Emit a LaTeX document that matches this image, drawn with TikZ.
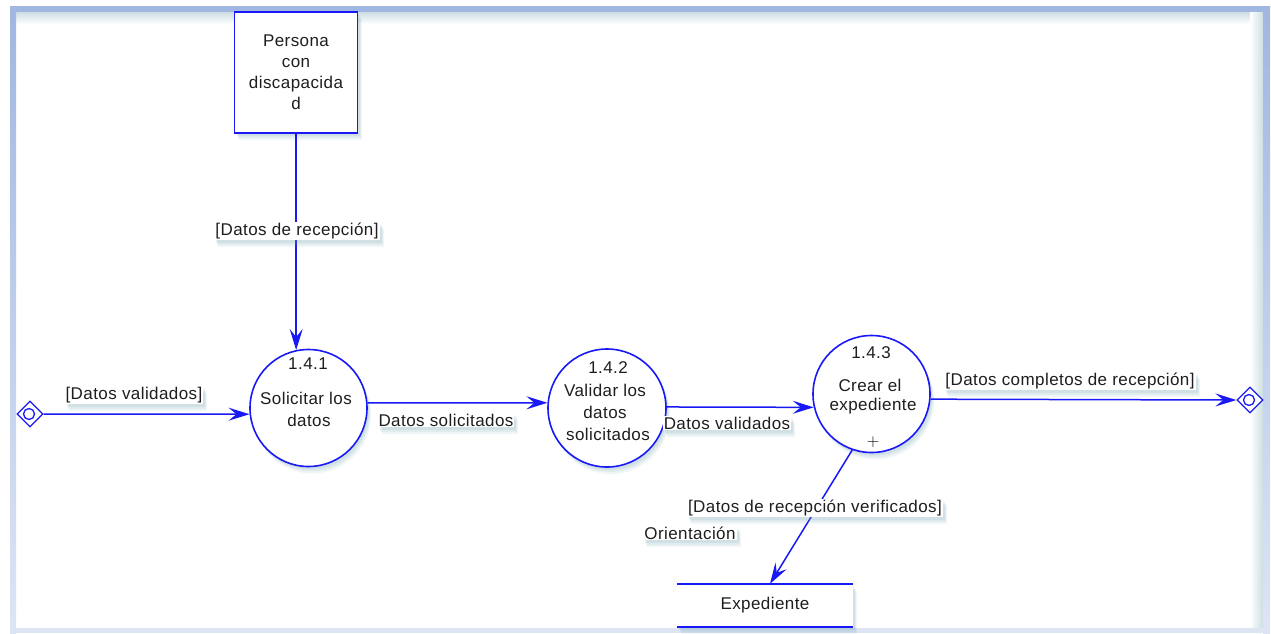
\documentclass[tikz,border=0pt]{standalone}
\usepackage{fontspec}
\setmainfont[LetterSpace=2.5]{Liberation Sans}
\usetikzlibrary{arrows.meta,shapes.geometric,shadows,calc}

\definecolor{flow}{RGB}{25,25,245}
\definecolor{frameblue}{RGB}{160,183,226}
\definecolor{framelight}{RGB}{221,229,245}
\definecolor{haze}{RGB}{110,160,175}
\definecolor{ink}{RGB}{30,30,30}

\tikzset{
  txt/.style={font=\fontsize{17}{21}\selectfont, text=ink, inner sep=1pt, align=center},
  % layered translucent copies give a soft drop shadow below each shape
  soft/.style={
    drop shadow={shadow xshift=4pt, shadow yshift=-7pt, fill=haze, opacity=0.10},
    drop shadow={shadow xshift=3pt, shadow yshift=-5pt, fill=haze, opacity=0.12},
    drop shadow={shadow xshift=2pt, shadow yshift=-3pt, fill=haze, opacity=0.14}},
  flowlabel/.style={txt, fill=white, soft},
  process/.style={circle, draw=flow, line width=1.6pt, fill=white, soft},
  entity/.style={rectangle, draw=flow, line width=1.6pt, fill=white, soft,
      minimum width=123pt, minimum height=121pt, txt},
  endpoint/.style={diamond, draw=flow, line width=1.3pt, fill=white,
      minimum width=26pt, minimum height=26pt, inner sep=0pt},
  flowline/.style={draw=flow, line width=1.5pt,
      -{Stealth[length=21pt, width=13pt, inset=8pt]}},
}

\begin{document}
\begin{tikzpicture}[x=1pt, y=-1pt]
  \useasboundingbox (0,0) rectangle (1271,633);

  % page frame with its soft inner edge
  \shade[top color=haze!35, bottom color=white] (16,12) rectangle (1263,24);
  \shade[left color=white, right color=haze!35] (1250,12) rectangle (1263,628);
  \fill[frameblue] (10,6) rectangle (1270,12);
  \shade[top color=frameblue, bottom color=framelight] (10,6) rectangle (16,633);
  \shade[top color=frameblue, bottom color=framelight] (1263,6) rectangle (1270,633);
  \fill[framelight] (10,628) rectangle (1270,633);

  % external entity
  \node[entity] (ext) at (296,72.5) {Persona\\con\\discapacida\\d};

  % processes
  \node[process, minimum size=117pt] (p1) at (308.5,408) {};
  \node[process, minimum size=118pt] (p2) at (607,408) {};
  \node[process, minimum size=117pt] (p3) at (871.5,394) {};

  \node[txt] (p1n) at (308,364) {1.4.1};
  \node[txt] (p1a) at (306,398) {Solicitar los};
  \node[txt] (p1b) at (309,420) {datos};

  \node[txt] (p2n) at (608,368) {1.4.2};
  \node[txt] (p2a) at (605,390) {Validar los};
  \node[txt] (p2b) at (605,412) {datos};
  \node[txt] (p2c) at (608,434) {solicitados};

  \node[txt] (p3n) at (871,353) {1.4.3};
  \node[txt] (p3a) at (870,385) {Crear el};
  \node[txt] (p3b) at (873,406) {expediente};
  \node[font=\fontsize{18}{20}\selectfont, inner sep=0pt] (p3plus) at (873,442) {$+$};

  % source and sink connectors
  \node[endpoint] (src) at (30,414) {};
  \node[draw=flow, line width=1.3pt, circle, minimum size=11pt, inner sep=0pt] (srcdot) at (29,414) {};
  \node[endpoint] (snk) at (1250,400) {};
  \node[draw=flow, line width=1.3pt, circle, minimum size=11pt, inner sep=0pt] (snkdot) at (1249,400) {};

  % data store
  \node[minimum width=176pt, minimum height=43pt, fill=white, soft, txt] (store) at (765,605.5) {Expediente};
  \draw[flow, line width=1.6pt] (store.north west) -- (store.north east);
  \draw[flow, line width=1.6pt] (store.south west) -- (store.south east);

  % flows
  \draw[flowline] (p1.102 |- ext.south) -- (p1.102);
  \draw[flowline] (src.east) -- (p1.186);
  \draw[flowline] (p1.5) -- (p2.175);
  \draw[flowline] (p2.1) -- (p3.193);
  \draw[flowline] (p3.355) -- (snk.west);
  \draw[flowline] (p3.251) -- ([xshift=5pt]store.north);

  % flow labels
  \node[flowlabel] (l1) at (297,231) {[Datos de recepción]};
  \node[flowlabel] (l2) at (134,395) {[Datos validados]};
  \node[flowlabel] (l3) at (446,420) {Datos solicitados};
  \node[flowlabel] (l4) at (727,423) {Datos validados};
  \node[flowlabel] (l5) at (1070,381) {[Datos completos de recepción]};
  \node[flowlabel] (l6) at (815,508) {[Datos de recepción verificados]};
  \node[flowlabel] (l7) at (690,533) {Orientación};
\end{tikzpicture}
\end{document}
